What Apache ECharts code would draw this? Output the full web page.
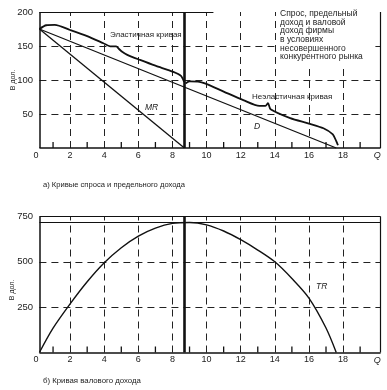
<!DOCTYPE html>
<html><head><meta charset="utf-8">
<script src="https://cdn.jsdelivr.net/npm/echarts@6/dist/echarts.min.js"></script>
<style>html,body{margin:0;padding:0;background:#fff}#c{width:387px;height:390px}</style>
</head><body><div id="c"></div>
<script>
// ---- data ----
const qStart = 0.2;
const qMax = 20.2;
const qKink = 8.7;              // Q where MR = 0 / TR max
const xGridTicks = [2, 4, 6, 8, 10, 12, 14, 16, 18];
const xMinorTicks = [1, 3, 5, 7, 9, 11, 13, 15, 17, 19];
const topGridValues = [50, 100, 150];
const bottomGridValues = [250, 500];
const demandLine = [[0.2, 175], [17.6, 0]];
const mrLine = [[0.2, 175], [8.7, 0]];
const elasticBrace = [[0.2,175],[0.6,180.5],[1.1,181],[2,173.5],[3,164.5],[3.95,154],[4.35,149.5],[4.7,149.5],[4.85,146],[5.05,141.5],[5.35,137],[6.1,129.5],[7,121],[8.05,112],[8.5,106],[8.68,97]];
const inelasticBrace = [[8.76,95],[9.0,98],[9.5,97.5],[9.9,95],[11,83],[12.15,70.5],[13.1,62],[13.45,62],[13.6,66],[13.75,57],[14.9,44],[16,36],[16.85,29],[17.4,20],[17.6,10],[17.7,4]];
const trCurve = [[0.2,0],[1,134],[2,268],[3,390],[4,495],[5,578],[6,642],[7,686],[8,712],[9,717],[10,704],[11,670],[12,622],[13,565],[14,500],[15,408],[16,300],[17,135],[17.6,0]];
const trMax = 717;
const topYMax = 200, bottomYMax = 750;
const topTopBorderEnd = 10.4;

const FONT = '"Liberation Sans", Arial, sans-serif';
const dashed = {color:'#222', width:1, type:[7,5]};
const solid = (w)=>({color:'#111', width:w, type:'solid'});

function xAxisDef(gi){
  return {
    gridIndex: gi, type:'value', min:0, max:qMax, interval:2,
    axisLine:{show:false},
    axisTick:{show:false},
    splitLine:{show:false},
    axisLabel:{margin:3, fontSize:9, fontFamily:FONT, color:'#222',
      formatter: v => v === 20 ? '{q|Q}' : String(v),
      rich:{q:{fontStyle:'italic', fontSize:9, fontFamily:FONT, color:'#222'}}}
  };
}
function yAxisDef(gi, max, interval){
  return {
    gridIndex: gi, type:'value', min:0, max:max, interval:interval,
    axisLine:{show:false}, axisTick:{show:false}, splitLine:{show:false},
    axisLabel:{margin:3, fontSize:9.5, fontFamily:FONT, color:'#222',
      formatter: v => v === 0 ? '' : String(v)}
  };
}
function frameMarks(yMax, gridVals, topBorderEnd){
  const d = [];
  xGridTicks.forEach(q => d.push([{coord:[q,0], lineStyle:dashed},{coord:[q,yMax]}]));
  gridVals.forEach(v => d.push([{coord:[qStart,v], lineStyle:dashed},{coord:[qMax,v]}]));
  d.push([{coord:[qStart,0], lineStyle:solid(1.5)},{coord:[qMax,0]}]);
  d.push([{coord:[qStart,0], lineStyle:solid(1.5)},{coord:[qStart,yMax]}]);
  d.push([{coord:[qMax,0], lineStyle:solid(1.2)},{coord:[qMax,yMax]}]);
  d.push([{coord:[qStart,yMax], lineStyle:solid(1.2)},{coord:[topBorderEnd,yMax]}]);
  d.push([{coord:[qKink,0], lineStyle:solid(2.6)},{coord:[qKink,yMax]}]);
  return d;
}
function tickSeries(gi, yMax){
  const tickLen = yMax * 6 / 136;
  return {type:'custom', xAxisIndex:gi, yAxisIndex:gi, silent:true, z:6,
    data: xMinorTicks.map(q => [q, 0, tickLen]),
    renderItem: (params, api) => {
      const p0 = api.coord([api.value(0), api.value(1)]);
      const p1 = api.coord([api.value(0), api.value(2)]);
      return {type:'line', shape:{x1:p0[0], y1:p0[1], x2:p1[0], y2:p1[1]}, style:{stroke:'#111', lineWidth:1.3}};
    }};
}
function line(gi, data, w, smooth){
  return {type:'line', xAxisIndex:gi, yAxisIndex:gi, data:data, showSymbol:false, symbol:'none',
    smooth:smooth, lineStyle:{color:'#111', width:w}, silent:true, z:5};
}

const chart = echarts.init(document.getElementById('c'), null, {renderer:'canvas'});
const txt = (x,y,t,extra)=>Object.assign({type:'text', x:x, y:y, style:Object.assign({text:t, fill:'#222', font:'8px '+FONT, textVerticalAlign:'middle'}, extra||{})});
chart.setOption({
  animation:false,
  grid:[
    {left:36, top:12, width:344.6, height:136},
    {left:36, top:216.5, width:344.6, height:136}
  ],
  xAxis:[xAxisDef(0), xAxisDef(1)],
  yAxis:[yAxisDef(0, topYMax, 50), yAxisDef(1, bottomYMax, 250)],
  series:[
    {type:'line', xAxisIndex:0, yAxisIndex:0, data:[], markLine:{silent:true, symbol:'none', label:{show:false}, data:frameMarks(topYMax, topGridValues, topTopBorderEnd)}},
    {type:'line', xAxisIndex:1, yAxisIndex:1, data:[], markLine:{silent:true, symbol:'none', label:{show:false},
      data:frameMarks(bottomYMax, bottomGridValues, qMax).concat([[{coord:[qStart,trMax], lineStyle:solid(1.2)},{coord:[qMax,trMax]}]])}},
    tickSeries(0, topYMax),
    tickSeries(1, bottomYMax),
    line(0, demandLine, 1.3, false),
    line(0, mrLine, 1.3, false),
    line(0, elasticBrace, 1.8, 0.25),
    line(0, inelasticBrace, 1.8, 0.25),
    line(1, trCurve, 1.4, 0.3)
  ],
  graphic:[
    {type:'rect', left:277, top:8, shape:{width:96, height:56}, style:{fill:'#fff'}, z:50},
    {type:'text', left:280, top:9, z:51, style:{text:'Спрос, предельный\nдоход и валовой\nдоход фирмы\nв условиях\nнесовершенного\nконкурентного рынка', fill:'#222', font:'8.5px '+FONT, lineHeight:8.7}},
    Object.assign(txt(110,35,'Эластичная кривая'),{z:51}),
    Object.assign(txt(252,97,'Неэластичная кривая'),{z:51}),
    txt(145,108,'MR',{font:'italic 8.5px '+FONT}),
    txt(254,127,'D',{font:'italic 8.5px '+FONT}),
    txt(316,287,'TR',{font:'italic 8.5px '+FONT}),
    txt(43,185,'а) Кривые спроса и предельного дохода',{font:'7.6px '+FONT}),
    txt(43,381,'б) Кривая валового дохода',{font:'7.8px '+FONT}),
    {type:'text', x:13, y:80, rotation:Math.PI/2, style:{text:'В дол.', fill:'#222', font:'7px '+FONT, textAlign:'center', textVerticalAlign:'middle'}},
    {type:'text', x:12, y:290, rotation:Math.PI/2, style:{text:'В дол.', fill:'#222', font:'7px '+FONT, textAlign:'center', textVerticalAlign:'middle'}}
  ]
});
</script></body></html>
